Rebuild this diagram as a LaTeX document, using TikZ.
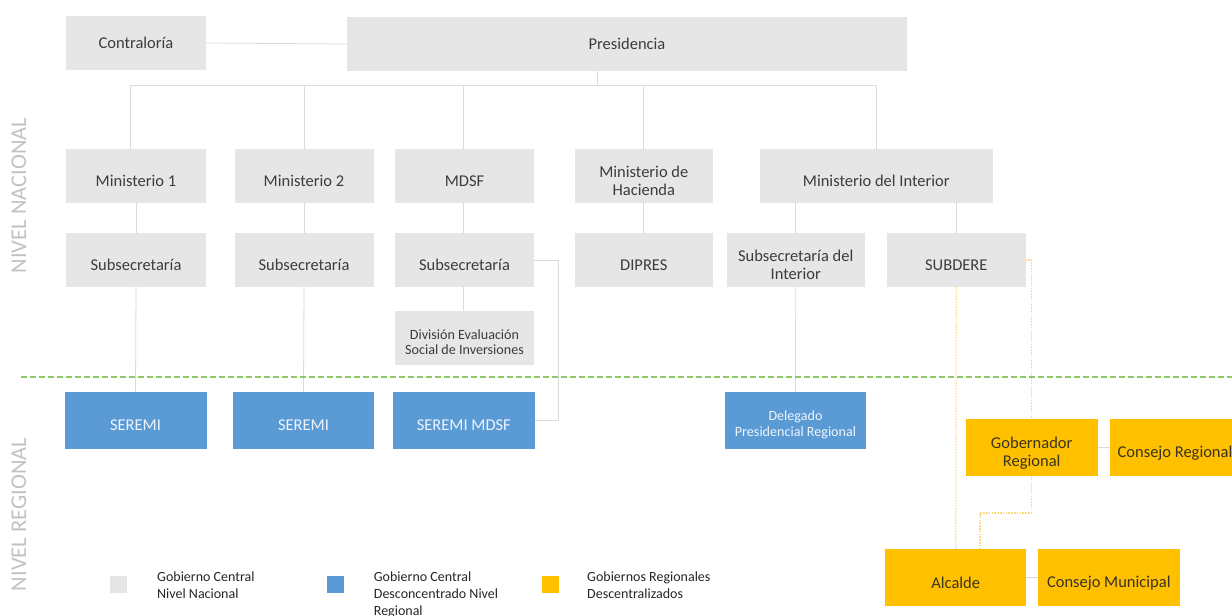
\documentclass[tikz,border=0pt]{standalone}
\usepackage{fontspec}
\setmainfont{Carlito}
\definecolor{cgray}{HTML}{E6E6E6}
\definecolor{cblue}{HTML}{5B9BD5}
\definecolor{corange}{HTML}{FFC000}
\definecolor{ctext}{HTML}{3C3C3C}
\definecolor{cotext}{HTML}{3A3420}
\definecolor{cwtext}{HTML}{EEF4FB}
\definecolor{cline}{HTML}{DCDCDC}
\definecolor{cgreen}{HTML}{8CC868}
\definecolor{cdot}{HTML}{FFD980}
\definecolor{cside}{HTML}{C2C2C2}
\definecolor{clegtext}{HTML}{262626}
\tikzset{
  gbox/.style={fill=cgray, inner sep=0pt, outer sep=0pt},
  bbox/.style={fill=cblue, inner sep=0pt, outer sep=0pt},
  obox/.style={fill=corange, inner sep=0pt, outer sep=0pt},
  sz/.style 2 args={minimum width=#1, minimum height=#2},
  txt/.style={font=\fontsize{16.5}{18}\selectfont, align=center, text=ctext, inner sep=0pt},
  wtxt/.style={txt, text=cwtext},
  otxt/.style={txt, text=cotext},
  stxt/.style={font=\fontsize{14.1}{15.3}\selectfont, align=center, text=ctext, inner sep=0pt},
  swtxt/.style={stxt, text=cwtext},
  conn/.style={draw=cline, line width=0.8pt},
  odot/.style={draw=cdot, line width=1.1pt, dash pattern=on 1.6pt off 1.2pt},
  gdash/.style={draw=cgreen, line width=1.2pt, dash pattern=on 5.5pt off 3.5pt},
  side/.style={rotate=90, font=\fontsize{22.5}{23}\selectfont, text=cside, inner sep=0pt},
  leg/.style={font=\fontsize{14}{17}\selectfont, align=left, text=clegtext, inner sep=0pt, anchor=north west},
  legsq/.style={inner sep=0pt, minimum width=17pt, minimum height=17pt}
}
\begin{document}
\begin{tikzpicture}[x=1pt,y=-1pt]
\clip (0,0) rectangle (1232,616);
\fill[white] (0,0) rectangle (1232,616);

% boxes - national level
\node[gbox, sz={140pt}{54pt}] (con) at (136,43) {};
\node[gbox, sz={560pt}{54pt}] (pres) at (627,44) {};
\node[gbox, sz={140pt}{54pt}] (m1) at (136,176) {};
\node[gbox, sz={139pt}{54pt}] (m2) at (304,176) {};
\node[gbox, sz={139pt}{54pt}] (mdsf) at (464.5,176) {};
\node[gbox, sz={138.5pt}{54pt}] (hac) at (643.8,176) {};
\node[gbox, sz={232.6pt}{54pt}] (int) at (876.3,176) {};
\node[gbox, sz={140pt}{54pt}] (s1) at (136,260) {};
\node[gbox, sz={139pt}{54pt}] (s2) at (304,260) {};
\node[gbox, sz={139pt}{54pt}] (s3) at (464.5,260) {};
\node[gbox, sz={138.5pt}{54pt}] (dip) at (643.8,260) {};
\node[gbox, sz={138.2pt}{54pt}] (si) at (795.7,260) {};
\node[gbox, sz={138.6pt}{54pt}] (sd) at (956.3,260) {};
\node[gbox, sz={139pt}{54pt}] (div) at (464.5,338) {};

% boxes - regional level
\node[bbox, sz={142pt}{57pt}] (r1) at (135.5,420.3) {};
\node[bbox, sz={141pt}{57pt}] (r2) at (303.5,420.3) {};
\node[bbox, sz={141.6pt}{57pt}] (r3) at (463.8,420.3) {};
\node[bbox, sz={141pt}{57pt}] (del) at (795.5,420.3) {};
\node[obox, sz={132.2pt}{57pt}] (gob) at (1031.7,447.5) {};
\node[obox, sz={130pt}{57pt}] (cr) at (1175,447.5) {};
\node[obox, sz={141.4pt}{57pt}] (alc) at (955.7,577.5) {};
\node[obox, sz={141.6pt}{57pt}] (cm) at (1108.8,577.5) {};

% texts
\node[txt] (tcon) at (con.center) {Contraloría};
\node[txt] (tpres) at (pres.center) {Presidencia};
\node[txt] (tm1) at ([yshift=-5pt]m1.center) {Ministerio 1};
\node[txt] (tm2) at ([yshift=-5pt]m2.center) {Ministerio 2};
\node[txt] (tmdsf) at ([yshift=-5pt]mdsf.center) {MDSF};
\node[txt] (thac) at ([yshift=-5pt]hac.center) {Ministerio de\\Hacienda};
\node[txt] (tint) at ([yshift=-5pt]int.center) {Ministerio del Interior};
\node[txt] (ts1) at ([yshift=-5pt]s1.center) {Subsecretaría};
\node[txt] (ts2) at ([yshift=-5pt]s2.center) {Subsecretaría};
\node[txt] (ts3) at ([yshift=-5pt]s3.center) {Subsecretaría};
\node[txt] (tdip) at ([yshift=-5pt]dip.center) {DIPRES};
\node[txt] (tsi) at ([yshift=-5pt]si.center) {Subsecretaría del\\Interior};
\node[txt] (tsd) at ([yshift=-5pt]sd.center) {SUBDERE};
\node[stxt] (tdiv) at ([yshift=-4.5pt]div.center) {División Evaluación\\Social de Inversiones};
\node[wtxt] (tr1) at ([yshift=-5pt]r1.center) {SEREMI};
\node[wtxt] (tr2) at ([yshift=-5pt]r2.center) {SEREMI};
\node[wtxt] (tr3) at ([yshift=-5pt]r3.center) {SEREMI MDSF};
\node[swtxt] (tdel) at ([yshift=-4.5pt]del.center) {Delegado\\Presidencial Regional};
\node[otxt] (tgob) at ([yshift=-5.5pt]gob.center) {Gobernador\\Regional};
\node[otxt] (tcr) at ([yshift=-5.5pt]cr.center) {Consejo Regional};
\node[otxt] (talc) at ([yshift=-5.5pt]alc.center) {Alcalde};
\node[otxt] (tcm) at ([yshift=-5.5pt]cm.center) {Consejo Municipal};

% gray connectors
\coordinate (pd) at (597,71);
\coordinate (busL) at (130,85);
\coordinate (busR) at (876.3,85);
\draw[conn] (con.east) -- (pres.west);
\draw[conn] (pd) -- (pd |- busL);
\draw[conn] (busL) -- (busR);
\draw[conn] (busL) -- (busL |- m1.north);
\draw[conn] (m2.north |- busL) -- (m2.north);
\draw[conn] ([xshift=-1pt]mdsf.north |- busL) -- ([xshift=-1pt]mdsf.north);
\draw[conn] (hac.north |- busL) -- (hac.north);
\draw[conn] (busR) -- (int.north);
\draw[conn] (m1.south) -- (s1.north);
\draw[conn] (m2.south) -- (s2.north);
\draw[conn] ([xshift=-1pt]mdsf.south) -- ([xshift=-1pt]s3.north);
\draw[conn] (hac.south) -- (dip.north);
\draw[conn] (si.north |- int.south) -- (si.north);
\draw[conn] (sd.north |- int.south) -- (sd.north);
\draw[conn] ([xshift=-1pt]s3.south) -- ([xshift=-1pt]div.north);
\coordinate (mx) at (558,260);
\draw[conn] (s3.east) -- (mx) -- (mx |- r3.east) -- (r3.east);
\draw[conn] (s1.south) -- (r1.north);
\draw[conn] (s2.south) -- (r2.north);
\draw[conn] (si.south) -- (del.north);
\draw[conn] (gob.east) -- (cr.west);
\draw[conn] (alc.east) -- (cm.west);

% orange dotted connectors
\coordinate (ga) at (980,513);
\draw[odot] (sd.east) -| (gob.north);
\draw[odot] (sd.south) -- (alc.north);
\draw[odot] (gob.south) |- (ga) -- (ga |- alc.north);

% level separator
\coordinate (gl) at (21,377);
\coordinate (gr) at (1232,377);
\draw[gdash] (gl) -- (gr);

% side labels
\node[side] (nac) at (19,195.5) {NIVEL NACIONAL};
\node[side] (reg) at (19,514.5) {NIVEL REGIONAL};

% legend
\node[legsq, fill=cgray] (lg1) at (118.5,584.5) {};
\node[legsq, fill=cblue] (lg2) at (335,584.5) {};
\node[legsq, fill=corange] (lg3) at (550,584.5) {};
\node[leg] (lt1) at (157,572) {Gobierno Central\\Nivel Nacional};
\node[leg] (lt2) at (373.7,572) {Gobierno Central\\Desconcentrado Nivel\\Regional};
\node[leg] (lt3) at (587,572) {Gobiernos Regionales\\Descentralizados};
\end{tikzpicture}
\end{document}
